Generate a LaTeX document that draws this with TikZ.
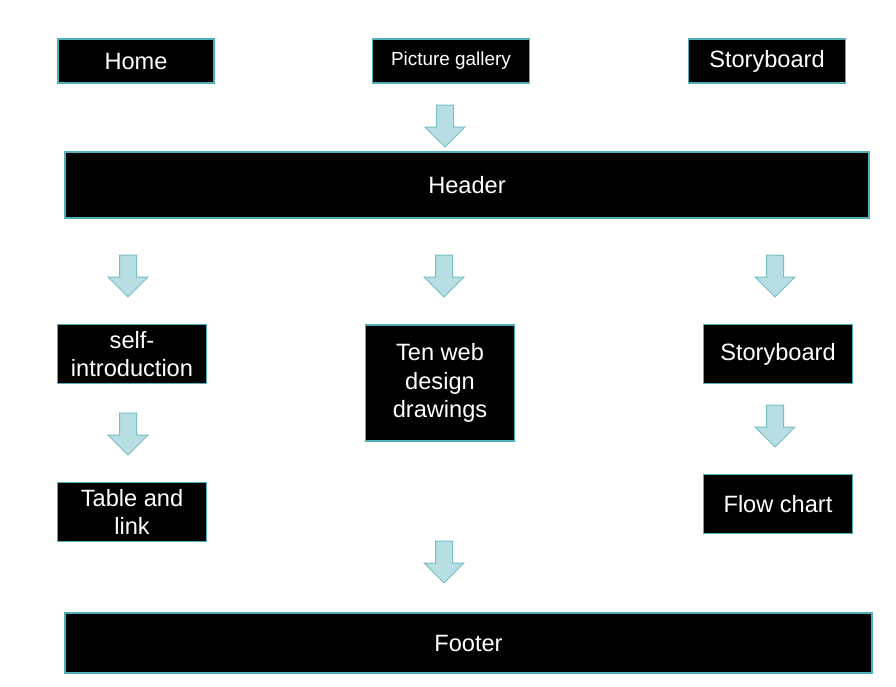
\documentclass[tikz,border=0pt]{standalone}
\usepackage{fontspec}
\setmainfont{Liberation Sans}
\definecolor{edgeteal}{RGB}{80,175,185}
\definecolor{arrowfill}{RGB}{183,222,226}
\definecolor{arrowedge}{RGB}{118,190,196}
\begin{document}
\begin{tikzpicture}[x=1pt,y=-1pt]
          \tikzstyle{every node}=[draw=edgeteal,line width=1.1pt,fill=black,text=white,
            inner sep=2pt,align=center,font=\fontsize{23.6}{28.5}\selectfont];
          \tikzset{downarrow/.pic={
            \draw[fill=arrowfill,draw=arrowedge,line width=1pt]
              (-8.5,0) -- (8.5,0) -- (8.5,22) -- (20,22) -- (0,42) -- (-20,22) -- (-8.5,22) -- cycle;}}
          \useasboundingbox (0,0) rectangle (896,686);
          %top row
          \node (home) at (136,61) [minimum width=156,minimum height=44] {Home};
          \node (gallery) at (451,61) [minimum width=157,minimum height=44,font=\fontsize{18.9}{22}\selectfont] {Picture gallery};
          \node (story) at (767,61) [minimum width=157,minimum height=44] {Storyboard};
          \pic at (445,105) {downarrow};
          \node (header) at (467,185) [minimum width=804,minimum height=66] {Header};
          %middle
          \pic at (128,255) {downarrow};
          \pic at (444,255) {downarrow};
          \pic at (775,255) {downarrow};
          \node (intro) at (132,354) [minimum width=149,minimum height=59] {self-\\introduction};
          \node (ten) at (440,383) [minimum width=149,minimum height=116] {Ten web\\design\\drawings};
          \node (story2) at (778,354) [minimum width=149,minimum height=59] {Storyboard};
          \pic at (128,413) {downarrow};
          \pic at (775,405) {downarrow};
          \node (table) at (132,512) [minimum width=149,minimum height=59] {Table and\\link};
          \node (flow) at (778,504) [minimum width=149,minimum height=59] {Flow chart};
          %footer
          \pic at (444,541) {downarrow};
          \node (footer) at (468.5,643) [minimum width=807,minimum height=60] {Footer};
      \end{tikzpicture}
\end{document}
